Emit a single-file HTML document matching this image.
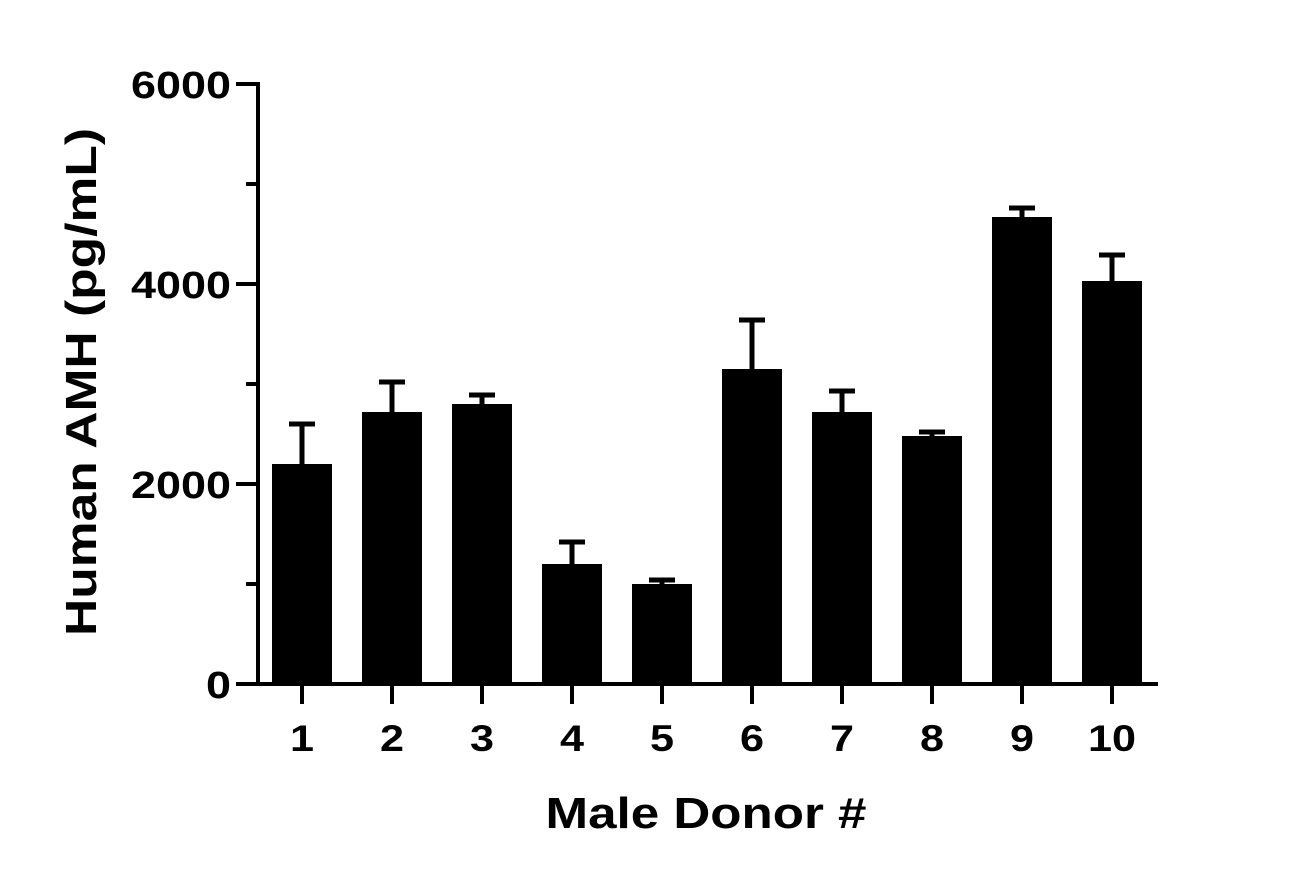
<!DOCTYPE html>
<html><head><meta charset="utf-8"><style>
html,body{margin:0;padding:0;background:#fff;}
svg text{font-family:"Liberation Sans",sans-serif;font-weight:bold;fill:#000;}
</style></head><body>
<svg id="chart" width="1295" height="880" xmlns="http://www.w3.org/2000/svg"></svg>
<script>
const categories = ["1","2","3","4","5","6","7","8","9","10"];
const meanValues = [2200,2720,2800,1200,1000,3150,2720,2480,4670,4030];
const errorValues = [400,300,90,220,40,490,210,40,90,260];
const yTickLabels = [0,2000,4000,6000];
const yMinorTicks = [1000,3000,5000];

const svg = document.getElementById('chart');
const NS = 'http://www.w3.org/2000/svg';
const x0 = 258, x1 = 1158, y0 = 684, yTop = 84, yMax = 6000;
const y = v => y0 - (v / yMax) * (y0 - yTop);
const step = 90, firstCenter = 302, barW = 60;
const xc = i => firstCenter + i * step;
function mk(tag, attrs){const e=document.createElementNS(NS,tag);for(const k in attrs)e.setAttribute(k,attrs[k]);svg.appendChild(e);return e;}

categories.forEach((c,i)=>{
  const b = mk('rect',{x:xc(i)-barW/2,y:y(meanValues[i]),width:barW,height:y0-y(meanValues[i]),fill:'#000'});
  
  
  const top = y(meanValues[i]+errorValues[i]);
  const e = mk('path',{d:`M${xc(i)} ${y(meanValues[i])}V${top}M${xc(i)-13} ${top}H${xc(i)+13}`,stroke:'#000','stroke-width':5,fill:'none'});
  
  
  const t = mk('path',{d:`M${xc(i)} ${y0}V${y0+20}`,stroke:'#000','stroke-width':4});
  
  
  const l = mk('text',{x:xc(i),y:751,'font-size':37,'text-anchor':'middle',textLength:c.length*24,lengthAdjust:'spacingAndGlyphs'});
  l.textContent = c;
  
  
});
const ya = mk('path',{d:`M${x0} ${yTop-2}V${y0}H${x1}`,stroke:'#000','stroke-width':4,fill:'none'});


yTickLabels.forEach(v=>{
  const t = mk('path',{d:`M${x0-22} ${y(v)}H${x0}`,stroke:'#000','stroke-width':4});
  
  
  const s = String(v);
  const l = mk('text',{x:231,y:y(v)+14,'font-size':38,'text-anchor':'end',textLength:s.length*25,lengthAdjust:'spacingAndGlyphs'});
  l.textContent = s;
  
  
});
yMinorTicks.forEach(v=>{
  const t = mk('path',{d:`M${x0-12} ${y(v)}H${x0}`,stroke:'#000','stroke-width':4});
  
  
});
const yt = mk('text',{x:0,y:0,'font-size':44,'text-anchor':'middle',transform:'translate(96 382) rotate(-90)',textLength:508,lengthAdjust:'spacingAndGlyphs'});
yt.textContent = 'Human AMH (pg/mL)';


const xt = mk('text',{x:706,y:828,'font-size':44,'text-anchor':'middle',textLength:321,lengthAdjust:'spacingAndGlyphs'});
xt.textContent = 'Male Donor #';


</script>
</body></html>
